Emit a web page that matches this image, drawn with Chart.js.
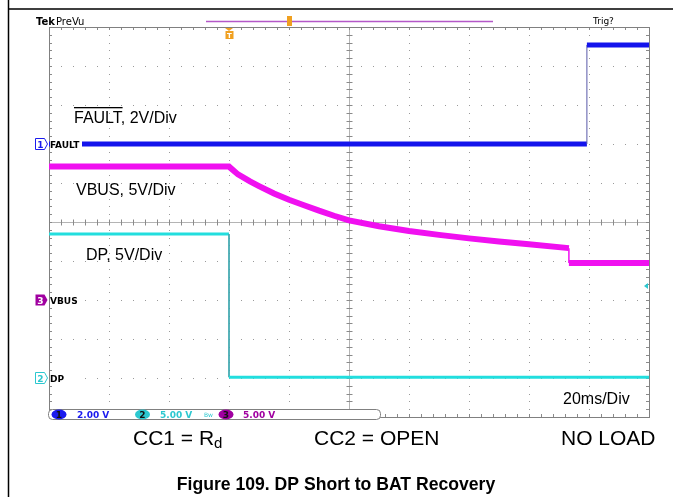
<!DOCTYPE html>
<html>
<head>
<meta charset="utf-8">
<script src="https://cdn.jsdelivr.net/npm/chart.js@4/dist/chart.umd.min.js"></script>
<style>
html, body { margin: 0; padding: 0; background: #fff; }
#wrap { width: 673px; height: 497px; position: relative; }
</style>
</head>
<body>
<div id="wrap"><canvas id="chart"></canvas></div>
<script>
// x = time in ms (20 ms/div, 10 div), y = screen divisions (0..10)
var faultTime = [0, 179.3, 179.3, 200];
var faultLevel = [7.0, 7.0, 9.54, 9.54];

var vbusTime = [0, 60, 63, 67, 70, 75, 80, 85, 90, 95, 100, 110, 120, 130, 140, 150, 160, 173.3, 173.3, 200];
var vbusLevel = [6.42, 6.42, 6.22, 6.04, 5.92, 5.73, 5.57, 5.43, 5.29, 5.16, 5.04, 4.89, 4.77, 4.67, 4.58, 4.50, 4.43, 4.33, 3.95, 3.95];

var dpTime = [0, 60, 60, 200];
var dpLevel = [4.69, 4.69, 1.02, 1.02];

// channel ground markers (div) and names
var markerLevels = [7.0, 3.0, 1.0];
var markerNames = ['FAULT', 'VBUS', 'DP'];
var markerNums = ['1', '3', '2'];
var markerColors = ['#1a1aee', '#a000a0', '#2cc8d0'];
var scaleTexts = ['2.00 V', '5.00 V', '5.00 V'];
var triggerTime = 60;
var triggerLevel = 3.36;

function toPoints(times, levels) {
  return times.map(function(t, i) { return { x: t, y: levels[i] }; });
}

function isStep(ctx) {
  return ctx.p0.parsed.x === ctx.p1.parsed.x;
}

function drawGraticule(chart) {
  var ctx = chart.ctx, a = chart.chartArea;
  var xs = chart.scales.x, ys = chart.scales.y;
  var t, v, px, py, i;
  ctx.save();
  ctx.fillStyle = '#9a9a9a';
  // dotted horizontal lines
  for (v = 1; v < 10; v++) {
    if (v === 5) continue;
    py = Math.round(ys.getPixelForValue(v));
    for (t = 4; t < 200; t += 4) {
      px = Math.round(xs.getPixelForValue(t));
      ctx.fillRect(px, py, 1, 1);
    }
  }
  // dotted vertical lines
  for (t = 20; t < 200; t += 20) {
    if (t === 100) continue;
    px = Math.round(xs.getPixelForValue(t));
    for (i = 1; i < 50; i++) {
      py = Math.round(ys.getPixelForValue(i * 0.2));
      ctx.fillRect(px, py, 1, 1);
    }
  }
  // centre cross
  var cx = Math.round(xs.getPixelForValue(100)) + 0.5;
  var cy = Math.round(ys.getPixelForValue(5)) + 0.5;
  ctx.strokeStyle = '#b4b4b4';
  ctx.lineWidth = 1;
  ctx.beginPath();
  ctx.moveTo(a.left, cy); ctx.lineTo(a.right, cy);
  ctx.moveTo(cx, a.top); ctx.lineTo(cx, a.bottom);
  ctx.stroke();
  ctx.strokeStyle = '#8a8a8a';
  ctx.beginPath();
  for (t = 4; t < 200; t += 4) {
    px = Math.round(xs.getPixelForValue(t)) + 0.5;
    ctx.moveTo(px, cy - 3); ctx.lineTo(px, cy + 3);
    ctx.moveTo(px, a.top); ctx.lineTo(px, a.top + 3);
    ctx.moveTo(px, a.bottom); ctx.lineTo(px, a.bottom - 3);
  }
  for (i = 1; i < 50; i++) {
    py = Math.round(ys.getPixelForValue(i * 0.2)) + 0.5;
    ctx.moveTo(cx - 3, py); ctx.lineTo(cx + 3, py);
    ctx.moveTo(a.left, py); ctx.lineTo(a.left + 3, py);
    ctx.moveTo(a.right, py); ctx.lineTo(a.right - 3, py);
  }
  ctx.stroke();
  // border
  ctx.strokeStyle = '#808080';
  ctx.strokeRect(a.left + 0.5, a.top + 0.5, a.right - a.left, a.bottom - a.top);
  ctx.restore();
}

function roundRect(ctx, x, y, w, h, r) {
  ctx.beginPath();
  ctx.moveTo(x + r, y);
  ctx.lineTo(x + w - r, y);
  ctx.quadraticCurveTo(x + w, y, x + w, y + r);
  ctx.lineTo(x + w, y + h - r);
  ctx.quadraticCurveTo(x + w, y + h, x + w - r, y + h);
  ctx.lineTo(x + r, y + h);
  ctx.quadraticCurveTo(x, y + h, x, y + h - r);
  ctx.lineTo(x, y + r);
  ctx.quadraticCurveTo(x, y, x + r, y);
  ctx.closePath();
}

function drawOverlay(chart) {
  var ctx = chart.ctx, a = chart.chartArea;
  var xs = chart.scales.x, ys = chart.scales.y;
  ctx.save();

  // channel markers on the left edge
  markerLevels.forEach(function(lv, i) {
    var y = Math.round(ys.getPixelForValue(lv));
    ctx.fillStyle = '#fff';
    ctx.fillRect(a.left + 1, y - 6, 32, 12);
    ctx.beginPath();
    ctx.moveTo(35.5, y - 5.5);
    ctx.lineTo(44.5, y - 5.5);
    ctx.lineTo(47.5, y);
    ctx.lineTo(44.5, y + 5.5);
    ctx.lineTo(35.5, y + 5.5);
    ctx.closePath();
    ctx.lineWidth = 1;
    if (i === 1) {
      ctx.fillStyle = markerColors[i];
      ctx.fill();
      ctx.fillStyle = '#fff';
    } else {
      ctx.fillStyle = '#fff';
      ctx.fill();
      ctx.strokeStyle = markerColors[i];
      ctx.stroke();
      ctx.fillStyle = markerColors[i];
    }
    ctx.font = 'bold 9px "DejaVu Sans"';
    ctx.textAlign = 'center';
    ctx.textBaseline = 'alphabetic';
    ctx.fillText(markerNums[i], 40.5, y + 4);
    ctx.fillStyle = '#000';
    ctx.textAlign = 'left';
    ctx.fillText(markerNames[i], 50, y + 4);
  });

  // trigger level arrow on right edge
  var ty = ys.getPixelForValue(triggerLevel);
  ctx.fillStyle = '#2cc8d0';
  ctx.beginPath();
  ctx.moveTo(a.right - 5, ty);
  ctx.lineTo(a.right - 1, ty - 3);
  ctx.lineTo(a.right - 1, ty + 3);
  ctx.closePath();
  ctx.fill();

  // trace annotations
  ctx.fillStyle = '#000';
  ctx.font = '16px "Liberation Sans"';
  ctx.textAlign = 'left';
  ctx.fillText('FAULT, 2V/Div', 74, 123);
  var fw = ctx.measureText('FAULT').width;
  ctx.fillRect(74, 107, fw, 1.3);
  ctx.fillText('VBUS, 5V/Div', 76, 195);
  ctx.fillText('DP, 5V/Div', 86, 260);
  ctx.fillText('20ms/Div', 563, 404);

  // readout box
  roundRect(ctx, 48.5, 409.5, 332, 10, 4);
  ctx.fillStyle = '#fff';
  ctx.fill();
  ctx.strokeStyle = '#808080';
  ctx.lineWidth = 1;
  ctx.stroke();
  var chipX = [59, 142.5, 226];
  var textX = [77, 160, 243];
  var chipOrder = [0, 2, 1];
  chipX.forEach(function(x, k) {
    var i = chipOrder[k];
    ctx.fillStyle = markerColors[i];
    ctx.beginPath();
    ctx.ellipse(x, 414.5, 7.5, 5, 0, 0, Math.PI * 2);
    ctx.fill();
    ctx.fillStyle = '#111';
    ctx.font = 'bold 9px "DejaVu Sans"';
    ctx.textAlign = 'center';
    ctx.fillText(markerNums[i], x, 418);
    ctx.textAlign = 'left';
    ctx.fillStyle = markerColors[i];
    ctx.fillText(scaleTexts[k], textX[k], 418);
  });
  ctx.fillStyle = '#2cc8d0';
  ctx.font = '6px "DejaVu Sans"';
  ctx.fillText('Bw', 204, 417);

  // header
  ctx.fillStyle = '#000';
  ctx.font = 'bold 10px "DejaVu Sans"';
  ctx.fillText('Tek', 36, 25);
  ctx.font = '10px "DejaVu Sans"';
  ctx.fillText('PreVu', 56, 25);
  ctx.font = '9px "DejaVu Sans"';
  ctx.fillText('Trig?', 593, 24);
  ctx.strokeStyle = '#b458c8';
  ctx.lineWidth = 1.5;
  ctx.beginPath();
  ctx.moveTo(206, 21.5); ctx.lineTo(493, 21.5);
  ctx.stroke();
  // trigger position markers
  var tx = Math.round(xs.getPixelForValue(triggerTime));
  ctx.fillStyle = '#f0a020';
  ctx.beginPath();
  ctx.moveTo(tx - 4, 28); ctx.lineTo(tx + 4, 28); ctx.lineTo(tx, 31);
  ctx.closePath();
  ctx.fill();
  ctx.fillRect(tx - 3.5, 31, 8, 8);
  ctx.fillRect(287, 16, 5, 10);
  ctx.fillStyle = '#fff';
  ctx.font = 'bold 7px "DejaVu Sans"';
  ctx.textAlign = 'center';
  ctx.fillText('T', tx + 0.5, 38);

  // labels below screen
  ctx.fillStyle = '#000';
  ctx.textAlign = 'left';
  ctx.font = '21px "Liberation Sans"';
  ctx.fillText('CC1 = R', 133, 445);
  var rw = ctx.measureText('CC1 = R').width;
  ctx.font = '15px "Liberation Sans"';
  ctx.fillText('d', 133 + rw, 448);
  ctx.font = '21px "Liberation Sans"';
  ctx.fillText('CC2 = OPEN', 314, 445);
  ctx.fillText('NO LOAD', 561, 445);
  ctx.font = 'bold 17.6px "Liberation Sans"';
  ctx.textAlign = 'center';
  ctx.fillText('Figure 109. DP Short to BAT Recovery', 336, 490);

  // page frame
  ctx.strokeStyle = '#000';
  ctx.lineWidth = 1.5;
  ctx.beginPath();
  ctx.moveTo(8.5, 0); ctx.lineTo(8.5, 497);
  ctx.moveTo(8, 9); ctx.lineTo(673, 9);
  ctx.stroke();
  ctx.restore();
}

var scopeDecor = {
  id: 'scopeDecor',
  beforeDraw: function(chart) {
    var ctx = chart.ctx;
    ctx.save();
    ctx.fillStyle = '#fff';
    ctx.fillRect(0, 0, chart.width, chart.height);
    ctx.restore();
  },
  beforeDatasetsDraw: function(chart) { drawGraticule(chart); },
  afterDatasetsDraw: function(chart) { drawOverlay(chart); }
};

var chart = new Chart('chart', {
  type: 'line',
  data: {
    datasets: [
      {
        label: 'FAULT',
        data: toPoints(faultTime, faultLevel),
        borderColor: '#1414ec',
        borderWidth: 5,
        segment: {
          borderWidth: function(ctx) { return isStep(ctx) ? 1 : 5; },
          borderColor: function(ctx) { return isStep(ctx) ? '#5858a8' : '#1414ec'; }
        }
      },
      {
        label: 'VBUS',
        data: toPoints(vbusTime, vbusLevel),
        borderColor: '#f010f0',
        borderWidth: 6,
        segment: {
          borderWidth: function(ctx) { return isStep(ctx) ? 1.5 : 6; }
        }
      },
      {
        label: 'DP',
        data: toPoints(dpTime, dpLevel),
        borderColor: '#22dede',
        borderWidth: 3,
        segment: {
          borderWidth: function(ctx) { return isStep(ctx) ? 1 : 3; },
          borderColor: function(ctx) { return isStep(ctx) ? '#40a8b0' : '#22dede'; }
        }
      }
    ]
  },
  options: {
    responsive: true,
    maintainAspectRatio: false,
    animation: false,
    layout: { padding: { left: 49, top: 27, right: 24, bottom: 80 } },
    elements: { point: { radius: 0 }, line: { tension: 0 } },
    scales: {
      x: { type: 'linear', min: 0, max: 200, display: false },
      y: { type: 'linear', min: 0, max: 10, display: false }
    },
    plugins: {
      legend: { display: false },
      tooltip: { enabled: false }
    }
  },
  plugins: [scopeDecor]
});
</script>
</body>
</html>
